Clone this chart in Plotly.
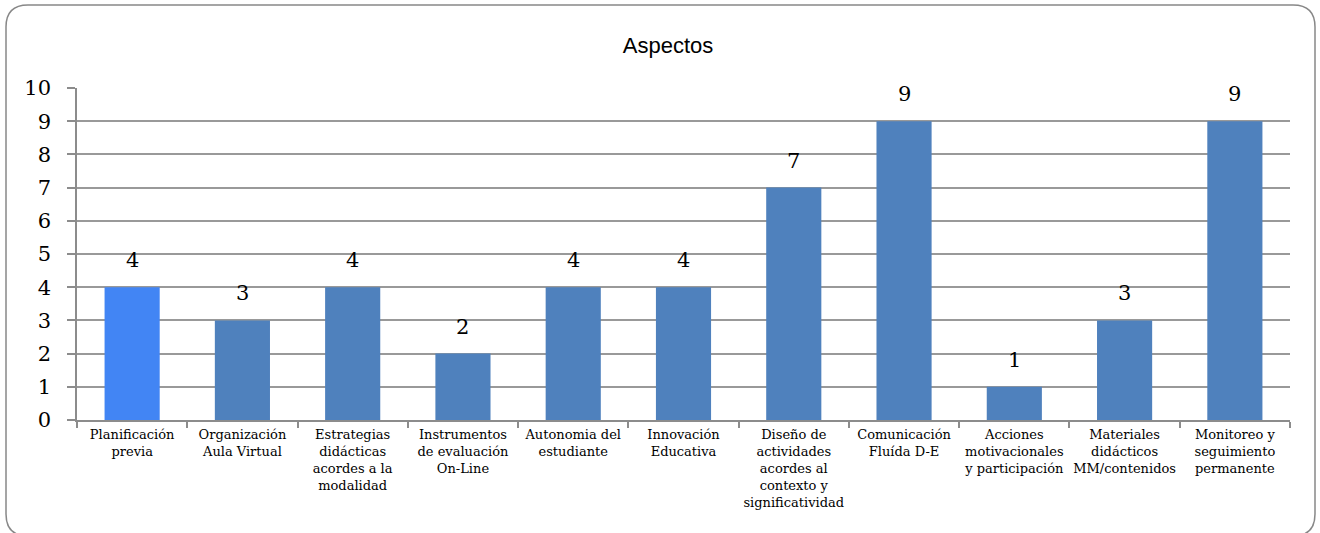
import plotly.graph_objects as go

categories = [
    "Planificación<br>previa",
    "Organización<br>Aula Virtual",
    "Estrategias<br>didácticas<br>acordes a la<br>modalidad",
    "Instrumentos<br>de evaluación<br>On-Line",
    "Autonomia del<br>estudiante",
    "Innovación<br>Educativa",
    "Diseño de<br>actividades<br>acordes al<br>contexto y<br>significatividad",
    "Comunicación<br>Fluída D-E",
    "Acciones<br>motivacionales<br>y participación",
    "Materiales<br>didácticos<br>MM/contenidos",
    "Monitoreo y<br>seguimiento<br>permanente",
]
values = [4, 3, 4, 2, 4, 4, 7, 9, 1, 3, 9]
bar_colors = ["#4285F4"] + ["#4F81BD"] * 10
y_ticks = list(range(0, 11))

W, H = 1320, 533
L, R, T, B = 77, 30, 88, 113
pw, ph = W - L - R, H - T - B

def px(x):
    return (x - L) / pw

def py(y):
    return (H - B - y) / ph

fig = go.Figure(go.Bar(
    x=categories, y=values,
    marker=dict(color=bar_colors, line=dict(width=0)),
    hoverinfo="skip",
))

for c, v in zip(categories, values):
    fig.add_annotation(x=c, y=v, text=str(v), showarrow=False,
                       xanchor="center", yanchor="middle", yshift=27,
                       font=dict(family="DejaVu Serif", size=21, color="#000"))

# rounded outer border (bottom edge falls just outside the picture)
x0, x1, y0, y1 = px(6), px(1315), py(5), py(536)
rx, ry = 22 / pw, 22 / ph
path = (f"M {x0+rx},{y0} L {x1-rx},{y0} Q {x1},{y0} {x1},{y0-ry} "
        f"L {x1},{y1+ry} Q {x1},{y1} {x1-rx},{y1} "
        f"L {x0+rx},{y1} Q {x0},{y1} {x0},{y1+ry} "
        f"L {x0},{y0-ry} Q {x0},{y0} {x0+rx},{y0} Z")
fig.add_shape(type="path", path=path, xref="paper", yref="paper",
              line=dict(color="#888888", width=1.5), layer="below")

fig.update_layout(
    width=W, height=H,
    margin=dict(l=L, r=R, t=T, b=B),
    paper_bgcolor="white", plot_bgcolor="white",
    bargap=0.5, showlegend=False,
    title=dict(text="Aspectos", x=668 / W, xanchor="center", y=1 - 45 / H, yanchor="middle",
               font=dict(family="Liberation Sans", size=22, color="#000")),
)
fig.update_yaxes(
    range=[0, 10], tickvals=y_ticks, showgrid=True, gridcolor="#999999", gridwidth=1.5,
    showline=True, linecolor="#8c8c8c", linewidth=1.5,
    ticks="outside", ticklen=8, tickcolor="#8c8c8c", tickwidth=1.5,
    ticklabelstandoff=12,
    tickfont=dict(family="DejaVu Serif", size=21, color="#000"), zeroline=False,
)
fig.update_xaxes(
    showline=True, linecolor="#8c8c8c", linewidth=1.5,
    ticks="outside", tickson="boundaries", ticklen=6, tickcolor="#8c8c8c", tickwidth=1.5,
    ticklabelstandoff=2,
    tickfont=dict(family="DejaVu Serif", size=13, color="#000"), tickangle=0,
)

fig.write_html("out.html", config={"displayModeBar": False},
               post_script="document.body.style.margin='0';document.body.style.overflow='hidden';")
